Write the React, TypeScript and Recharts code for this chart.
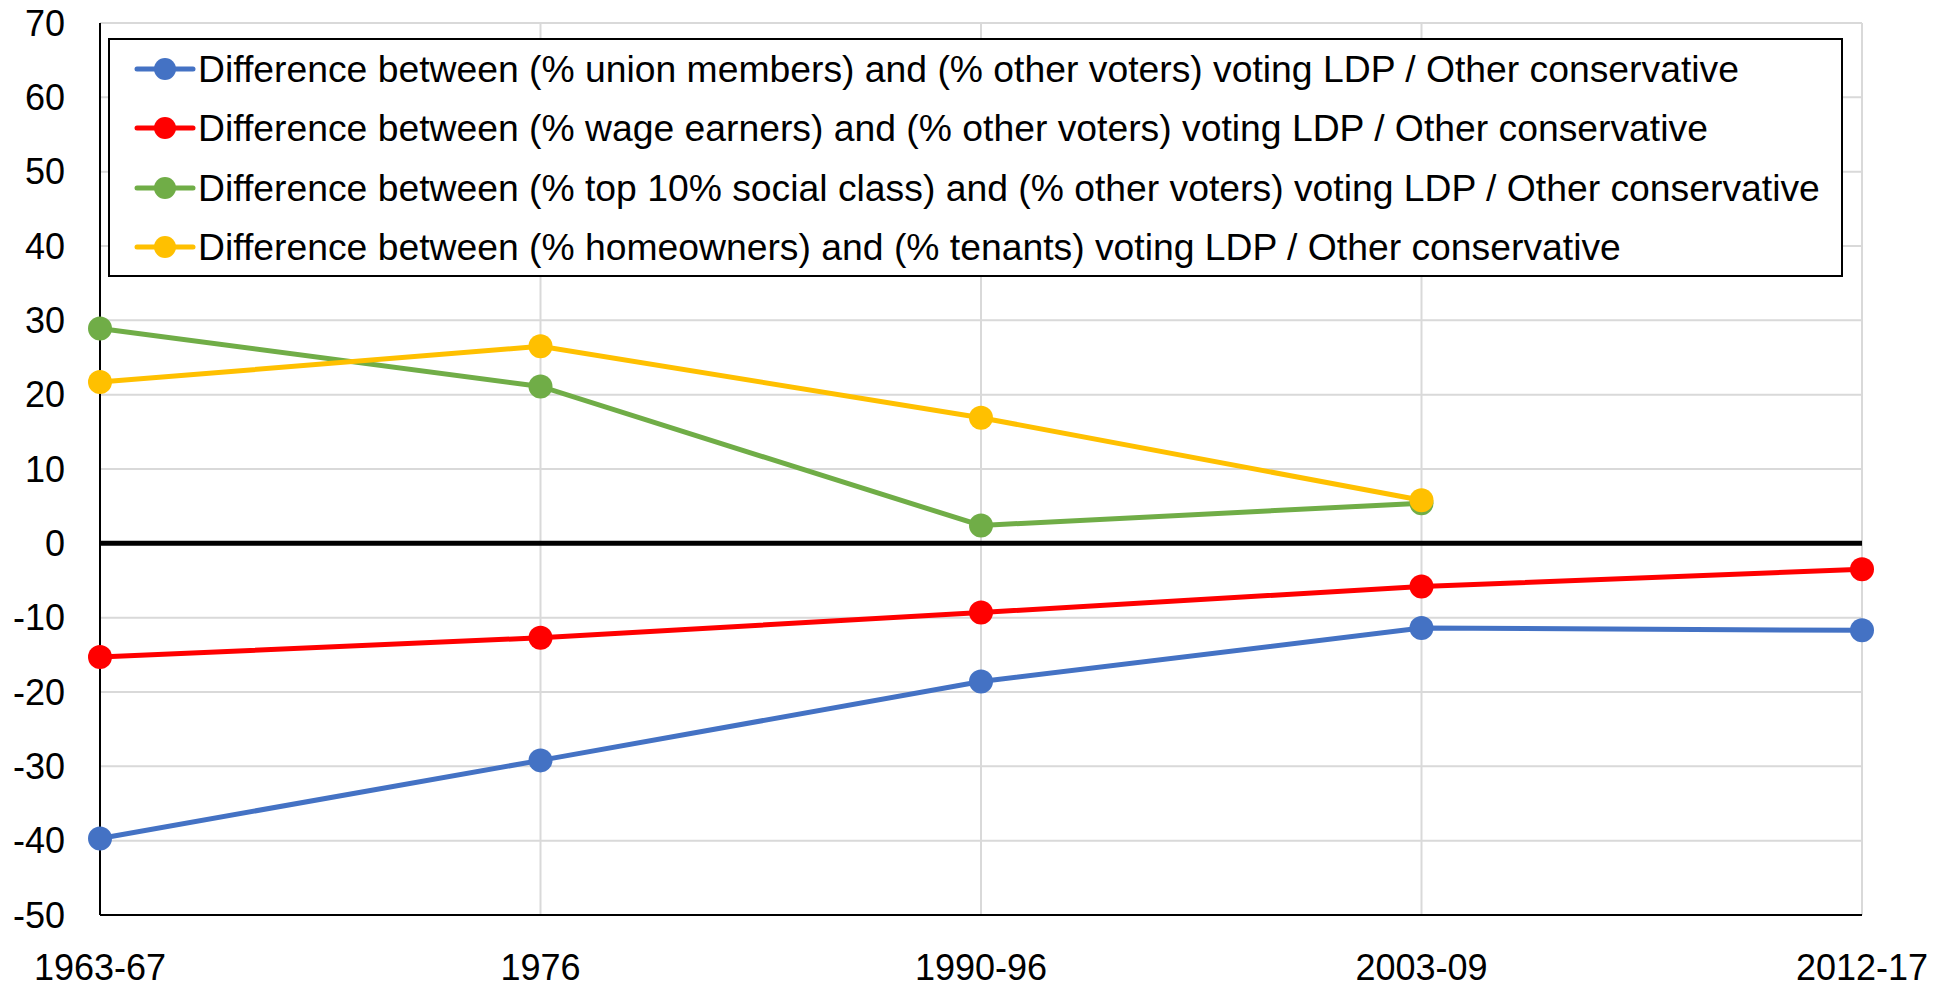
import React from 'react';
import { LineChart, Line, XAxis, YAxis, CartesianGrid, ReferenceLine, Legend } from 'recharts';

const categories = ['1963-67', '1976', '1990-96', '2003-09', '2012-17'];
const unionMembers = [-39.7, -29.2, -18.6, -11.4, -11.7];
const wageEarners = [-15.3, -12.7, -9.3, -5.8, -3.5];
const top10 = [28.9, 21.1, 2.4, 5.4, null];
const homeowners = [21.7, 26.5, 16.9, 5.8, null];
const yTicks = [-50, -40, -30, -20, -10, 0, 10, 20, 30, 40, 50, 60, 70];

const seriesNames = [
  'Difference between (% union members) and (% other voters) voting LDP / Other conservative',
  'Difference between (% wage earners) and (% other voters) voting LDP / Other conservative',
  'Difference between (% top 10% social class) and (% other voters) voting LDP / Other conservative',
  'Difference between (% homeowners) and (% tenants) voting LDP / Other conservative',
];
const seriesKeys = ['union', 'wage', 'top10', 'home'];
const colors = ['#4472C4', '#FF0000', '#70AD47', '#FFC000'];

const data = categories.map((c, i) => ({
  cat: c,
  union: unionMembers[i],
  wage: wageEarners[i],
  top10: top10[i],
  home: homeowners[i],
}));

const FONT = '"Liberation Sans", Arial, sans-serif';

const LegendBox = () => (
  <div
    style={{
      width: 1735,
      height: 239,
      boxSizing: 'border-box',
      border: '2px solid #000',
      background: '#fff',
      position: 'relative',
      fontFamily: FONT,
    }}
  >
    {seriesNames.map((name, i) => (
      <div
        key={name}
        style={{
          position: 'absolute',
          left: 0,
          top: 28.5 + i * 59.5 - 25,
          height: 50,
          display: 'flex',
          alignItems: 'center',
          whiteSpace: 'nowrap',
        }}
      >
        <svg width={88} height={50} style={{ display: 'block' }}>
          <line x1={27} y1={25} x2={83} y2={25} stroke={colors[i]} strokeWidth={5} strokeLinecap="round" />
          <circle cx={55} cy={25} r={11} fill={colors[i]} />
        </svg>
        <span style={{ fontSize: 37.3, color: '#000', lineHeight: '50px' }}>{name}</span>
      </div>
    ))}
  </div>
);

export default function App() {
  return (
    <div style={{ width: 1951, height: 988, fontFamily: FONT, overflow: 'hidden' }}>
      <style>{'html,body{margin:0;padding:0;overflow:hidden;}'}</style>
      <LineChart
        width={1951}
        height={988}
        data={data}
        margin={{ top: 23, right: 89, bottom: 13, left: 0 }}
      >
        <CartesianGrid stroke="#d9d9d9" strokeWidth={2} vertical={true} horizontal={true} />
        <XAxis
          dataKey="cat"
          type="category"
          padding={{ left: 0, right: 0 }}
          interval={0}
          height={60}
          tickSize={0}
          tickMargin={39}
          axisLine={{ stroke: '#000', strokeWidth: 2 }}
          tick={{ fontSize: 36, fill: '#000', fontFamily: FONT }}
        />
        <XAxis xAxisId="top" dataKey="cat" orientation="top" height={0} tick={false} tickLine={false} axisLine={{ stroke: '#000', strokeWidth: 2 }} />
        <YAxis
          type="number"
          domain={[-50, 70]}
          ticks={yTicks}
          interval={0}
          width={100}
          tickSize={0}
          tickMargin={35}
          axisLine={{ stroke: '#000', strokeWidth: 2 }}
          tick={{ fontSize: 36, fill: '#000', fontFamily: FONT }}
        />
        <YAxis yAxisId="right" orientation="right" width={0} domain={[-50, 70]} tick={false} tickLine={false} axisLine={{ stroke: '#000', strokeWidth: 2 }} />
        <ReferenceLine y={0} stroke="#000" strokeWidth={5} ifOverflow="extendDomain" />
        <Legend
          layout="horizontal"
          verticalAlign="middle"
          align="center"
          wrapperStyle={{ position: 'absolute', left: 108, top: 38, width: 1735, height: 239 }}
          content={() => <LegendBox />}
        />
        {seriesKeys.map((k, i) => (
          <Line
            key={k}
            dataKey={k}
            name={seriesNames[i]}
            stroke={colors[i]}
            strokeWidth={5}
            dot={{ r: 12, fill: colors[i], stroke: colors[i], strokeWidth: 0 }}
            activeDot={false}
            connectNulls={false}
            isAnimationActive={false}
          />
        ))}
      </LineChart>
    </div>
  );
}
